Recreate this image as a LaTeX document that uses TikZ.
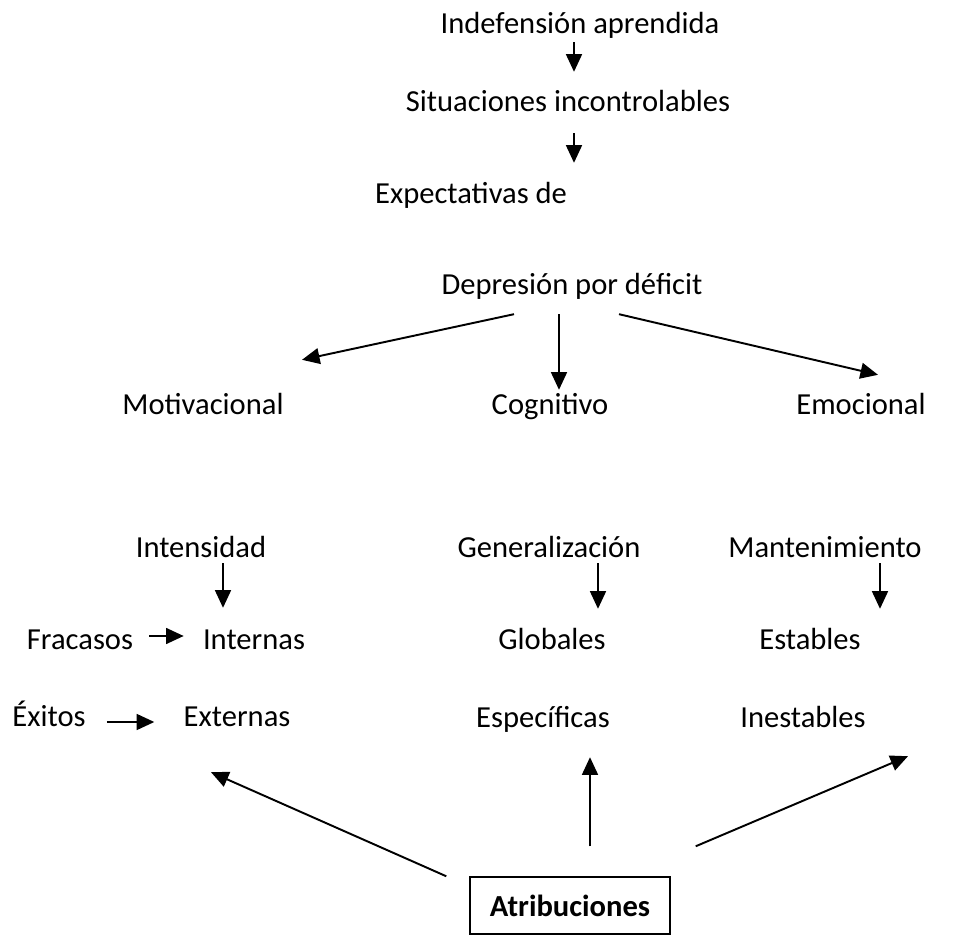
\documentclass[tikz,border=0pt]{standalone}
\usepackage{fontspec}
\setmainfont{Carlito}
\usepackage{tikz}
\usetikzlibrary{arrows.meta}

\begin{document}
\begin{tikzpicture}[
  x=0.02cm, y=-0.02cm,
  lbl/.style={inner sep=0pt, font=\fontsize{17.4}{21}\selectfont, text height=11.2pt, text depth=0pt},
  boxed/.style={draw, line width=0.85pt, minimum width=4cm, minimum height=1.14cm, font=\fontsize{17.4}{21}\selectfont\bfseries},
  link/.style={-{Triangle[length=10pt, width=9pt]}, line width=1.1pt}
]
  \useasboundingbox (0,0) rectangle (957,936);

  % Top chain
  \node[lbl] (ind) at (580,24)  {Indefensión aprendida};
  \node[lbl] (sit) at (568,102) {Situaciones incontrolables};
  \node[lbl] (exp) at (471,194) {Expectativas de};
  \node[lbl] (dep) at (572,285) {Depresión por déficit};

  % Deficits
  \node[lbl] (mot) at (203,405) {Motivacional};
  \node[lbl] (cog) at (550,405) {Cognitivo};
  \node[lbl] (emo) at (861,405) {Emocional};

  % Dimensions
  \node[lbl] (int) at (201,548) {Intensidad};
  \node[lbl] (gen) at (549,548) {Generalización};
  \node[lbl] (man) at (825,548) {Mantenimiento};

  \node[lbl] (fra) at (80,640)  {Fracasos};
  \node[lbl] (inn) at (254,640) {Internas};
  \node[lbl] (glo) at (552,640) {Globales};
  \node[lbl] (est) at (810,640) {Estables};

  \node[lbl] (exi) at (49,717)  {Éxitos};
  \node[lbl] (ext) at (237,717) {Externas};
  \node[lbl] (esp) at (543,718) {Específicas};
  \node[lbl] (ine) at (803,718) {Inestables};

  % Box at the bottom
  \node[boxed] (atr) at (570,905.5) {Atribuciones};

  % Arrows of the top chain
  \draw[link] ([shift={(-6,8)}]ind.south) -- ([shift={(6,-20)}]sit.north);
  \draw[link] ([shift={(6,21)}]sit.south) -- ([shift={(103,-21)}]exp.north);

  % Fan out from the depression
  \draw[link] ([shift={(-58,19)}]dep.south) -- ([shift={(99,-35)}]mot.north);
  \draw[link] ([shift={(-13,19)}]dep.south) -- ([shift={(9,-5)}]cog.north);
  \draw[link] ([shift={(47,19)}]dep.south)  -- ([shift={(17,-20)}]emo.north);

  % Dimension arrows
  \draw[link] ([shift={(22,5)}]int.south) -- ([shift={(-31,-22)}]inn.north);
  \draw[link] ([shift={(49,5)}]gen.south) -- ([shift={(46,-21)}]glo.north);
  \draw[link] ([shift={(55,5)}]man.south) -- ([shift={(70,-21)}]est.north);

  \draw[link] ([shift={(16,-4)}]fra.east) -- ([shift={(-19,-4)}]inn.west);
  \draw[link] ([shift={(21,5)}]exi.east)  -- ([shift={(-29,5)}]ext.west);

  % From the attributions
  \draw[link] ([shift={(-23,0)}]atr.north west) -- ([shift={(-26,45)}]ext.south);
  \draw[link] ([shift={(20,-30)}]atr.north)     -- ([shift={(47,29)}]esp.south);
  \draw[link] ([shift={(25,-30)}]atr.north east) -- ([shift={(105,28)}]ine.south);

\end{tikzpicture}
\end{document}
